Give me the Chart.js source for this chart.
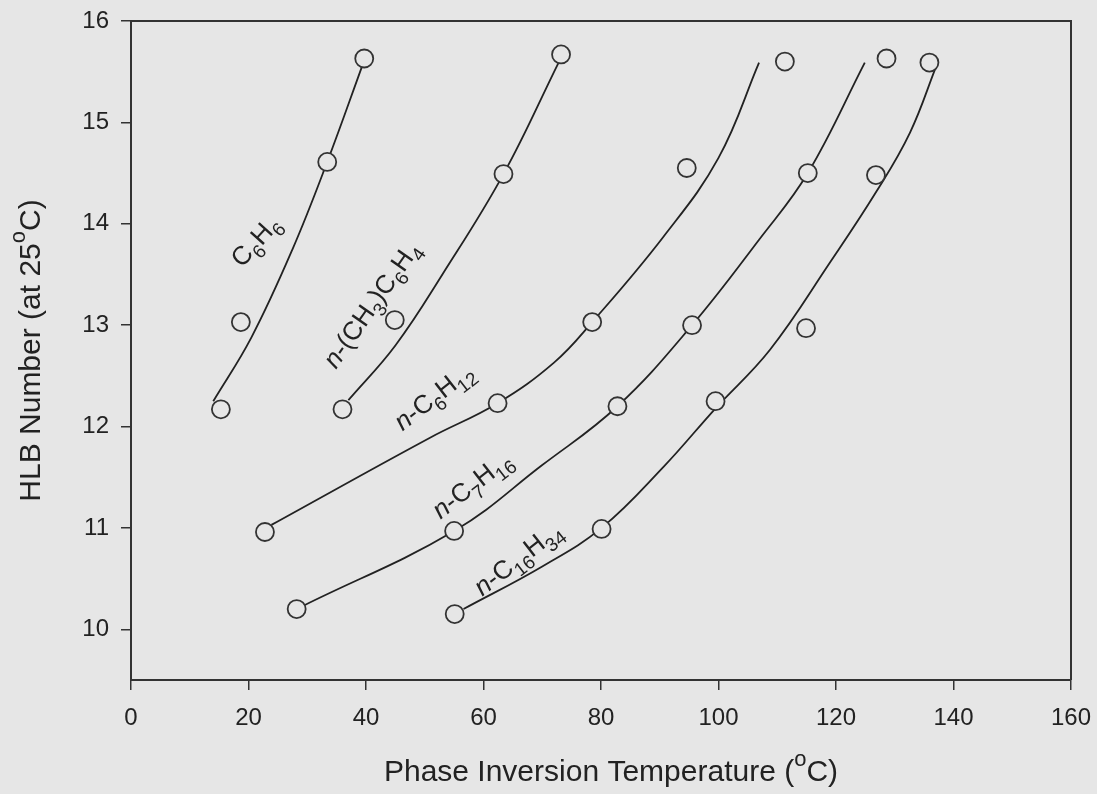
<!DOCTYPE html>
<html>
<head>
<meta charset="utf-8">
<script src="https://cdn.jsdelivr.net/npm/chart.js@4/dist/chart.umd.min.js"></script>
<style>
  html, body { margin: 0; padding: 0; background: #e6e6e6; }
  #wrap { width: 1097px; height: 794px; position: relative; }
</style>
</head>
<body>
<div id="wrap"><canvas id="hlb"></canvas></div>
<script>
// measured points (circles)
const benzeneX = [15.3, 18.7, 33.4, 39.7];
const benzeneY = [12.17, 13.03, 14.61, 15.63];
const tolueneX = [36.0, 44.9, 63.4, 73.2];
const tolueneY = [12.17, 13.05, 14.49, 15.67];
const hexaneX = [22.8, 62.4, 78.5, 94.6, 111.3];
const hexaneY = [10.96, 12.23, 13.03, 14.55, 15.60];
const heptaneX = [28.2, 55.0, 82.8, 95.5, 115.2, 128.6];
const heptaneY = [10.20, 10.97, 12.20, 13.00, 14.50, 15.63];
const hexadecaneX = [55.1, 80.1, 99.5, 114.9, 126.8, 135.9];
const hexadecaneY = [10.15, 10.99, 12.25, 12.97, 14.48, 15.59];

// fitted curves
const benzeneFitX = [14.0, 20.5, 27.5, 33.4, 39.5];
const benzeneFitY = [12.25, 12.88, 13.75, 14.61, 15.58];
const tolueneFitX = [37.0, 45.0, 53.0, 63.4, 72.7];
const tolueneFitY = [12.26, 12.80, 13.50, 14.49, 15.58];
const hexaneFitX = [23.9, 50.9, 62.4, 72.0, 78.5, 90.6, 100.0, 106.9];
const hexaneFitY = [11.03, 11.89, 12.23, 12.63, 13.03, 13.87, 14.65, 15.59];
const heptaneFitX = [29.6, 55.0, 70.0, 82.8, 95.5, 107.0, 115.2, 124.9];
const heptaneFitY = [10.24, 10.97, 11.62, 12.20, 13.00, 13.85, 14.50, 15.59];
const hexadecaneFitX = [56.6, 70.0, 80.1, 90.6, 99.5, 108.8, 119.0, 126.9, 132.6, 137.1];
const hexadecaneFitY = [10.20, 10.62, 11.00, 11.60, 12.18, 12.76, 13.62, 14.32, 14.90, 15.56];

const xTicks = [0, 20, 40, 60, 80, 100, 120, 140, 160];
const yTicks = [10, 11, 12, 13, 14, 15, 16];

const FONT = '"Liberation Sans", Arial, sans-serif';
const INK = '#222';
const BG = '#e6e6e6';

const pts = (xs, ys) => xs.map((x, i) => ({ x: x, y: ys[i] }));

// curve labels: text, anchor (data units), rotation in degrees
const curveLabels = [
  { text: 'C_{6}H_{6}', x: 18.9, y: 13.56, angle: 48 },
  { text: '*n*-(CH_{3})C_{6}H_{4}', x: 34.9, y: 12.56, angle: 55 },
  { text: '*n*-C_{6}H_{12}', x: 46.2, y: 11.95, angle: 38 },
  { text: '*n*-C_{7}H_{16}', x: 52.7, y: 11.08, angle: 38 },
  { text: '*n*-C_{16}H_{34}', x: 59.8, y: 10.32, angle: 38 }
];

function parseRich(str) {
  const out = [];
  const re = /_\{([^}]*)\}|\^\{([^}]*)\}|\*([^*]*)\*|([^_^*]+)/g;
  let m;
  while ((m = re.exec(str))) {
    if (m[1] !== undefined) out.push({ t: m[1], sub: true });
    else if (m[2] !== undefined) out.push({ t: m[2], sup: true });
    else if (m[3] !== undefined) out.push({ t: m[3], italic: true });
    else out.push({ t: m[4] });
  }
  return out;
}

function drawRich(ctx, str, x, y, angle, size, center) {
  const parts = parseRich(str);
  const fontFor = p => (p.italic ? 'italic ' : '') + Math.round(p.sub || p.sup ? size * 0.72 : size) + 'px ' + FONT;
  ctx.save();
  ctx.translate(x, y);
  ctx.rotate(-angle * Math.PI / 180);
  ctx.fillStyle = INK;
  ctx.textBaseline = center ? 'middle' : 'alphabetic';
  let total = 0;
  parts.forEach(p => { ctx.font = fontFor(p); p.w = ctx.measureText(p.t).width; total += p.w; });
  let cx = center ? -total / 2 : 0;
  parts.forEach(p => {
    ctx.font = fontFor(p);
    const dy = p.sub ? size * 0.3 : p.sup ? -size * 0.45 : 0;
    ctx.fillText(p.t, cx, dy);
    cx += p.w;
  });
  ctx.restore();
}

const decor = {
  id: 'decor',
  beforeDraw(chart) {
    const ctx = chart.ctx;
    ctx.save();
    ctx.fillStyle = BG;
    ctx.fillRect(0, 0, chart.width, chart.height);
    ctx.restore();
  },
  afterDraw(chart) {
    const ctx = chart.ctx;
    const a = chart.chartArea;
    const sx = chart.scales.x, sy = chart.scales.y;
    // frame on top and right
    ctx.save();
    ctx.strokeStyle = '#333';
    ctx.lineWidth = 2;
    ctx.beginPath();
    ctx.moveTo(a.left, a.top);
    ctx.lineTo(a.right, a.top);
    ctx.lineTo(a.right, a.bottom);
    ctx.stroke();
    ctx.restore();

    curveLabels.forEach(l => {
      drawRich(ctx, l.text, sx.getPixelForValue(l.x), sy.getPixelForValue(l.y), l.angle, 26, false);
    });

    drawRich(ctx, 'HLB Number (at 25^{o}C)', 32, (a.top + a.bottom) / 2, 90, 30, true);
    drawRich(ctx, 'Phase Inversion Temperature (^{o}C)', (a.left + a.right) / 2 + 10, 773, 0, 30, true);
  }
};

const fitStyle = {
  showLine: true, pointRadius: 0, borderColor: INK, borderWidth: 1.8,
  tension: 0.4, order: 2
};
const dotStyle = {
  showLine: false, pointRadius: 9, pointBorderWidth: 1.8,
  pointBorderColor: '#333', pointBackgroundColor: BG, order: 1
};

new Chart(document.getElementById('hlb'), {
  type: 'scatter',
  data: {
    datasets: [
      Object.assign({ data: pts(benzeneFitX, benzeneFitY) }, fitStyle),
      Object.assign({ data: pts(tolueneFitX, tolueneFitY) }, fitStyle),
      Object.assign({ data: pts(hexaneFitX, hexaneFitY) }, fitStyle),
      Object.assign({ data: pts(heptaneFitX, heptaneFitY) }, fitStyle),
      Object.assign({ data: pts(hexadecaneFitX, hexadecaneFitY) }, fitStyle),
      Object.assign({ data: pts(benzeneX, benzeneY) }, dotStyle),
      Object.assign({ data: pts(tolueneX, tolueneY) }, dotStyle),
      Object.assign({ data: pts(hexaneX, hexaneY) }, dotStyle),
      Object.assign({ data: pts(heptaneX, heptaneY) }, dotStyle),
      Object.assign({ data: pts(hexadecaneX, hexadecaneY) }, dotStyle)
    ]
  },
  options: {
    responsive: true,
    maintainAspectRatio: false,
    animation: false,
    layout: { padding: { top: 21, right: 26, left: 0, bottom: 0 } },
    plugins: { legend: { display: false }, tooltip: { enabled: false } },
    scales: {
      x: {
        type: 'linear', min: 0, max: 160,
        afterBuildTicks: s => { s.ticks = xTicks.map(v => ({ value: v })); },
        afterFit: s => { s.height = 114; s.paddingLeft = 0; s.paddingRight = 0; },
        grid: { drawOnChartArea: false, drawTicks: true, tickLength: 10, color: '#333', lineWidth: 1.5 },
        border: { color: '#333', width: 2 },
        ticks: { color: INK, font: { family: FONT, size: 24 }, padding: 14, maxRotation: 0 }
      },
      y: {
        type: 'linear', min: 9.5, max: 16,
        afterBuildTicks: s => { s.ticks = yTicks.map(v => ({ value: v })); },
        afterFit: s => { s.width = 131; s.paddingTop = 0; s.paddingBottom = 0; },
        grid: { drawOnChartArea: false, drawTicks: true, tickLength: 10, color: '#333', lineWidth: 1.5 },
        border: { color: '#333', width: 2 },
        ticks: { color: INK, font: { family: FONT, size: 24 }, padding: 12 }
      }
    }
  },
  plugins: [decor]
});
</script>
</body>
</html>
